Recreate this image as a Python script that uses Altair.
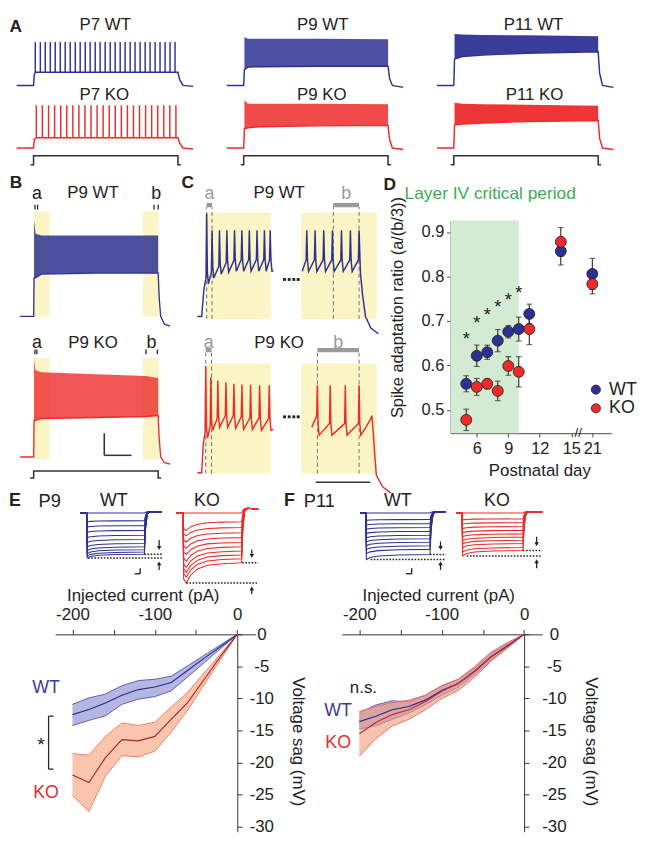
import altair as alt
import pandas as pd

S = 0.98


def P(v):
    return round(v * S, 3)


FONT = "Liberation Sans"
INK = "#222222"
BLUE = "#2e3192"
RED = "#ee2a2a"
YEL = "#fbf4c4"
GRY = "#9a9a9a"
GREEN_BG = "#d4ebd3"
GREEN_TX = "#3aad52"

# ====================== DATA ======================
# ---- Panel A: spike trains (t in ms, V in mV) ----
A_T = [-117, 1105]
A_V = [-78, 42]
p7_wt_spikes = [12, 47, 81, 116, 150, 185, 219, 254, 289, 323, 358, 392, 427, 461, 496,
                531, 565, 600, 634, 669, 703, 738, 773, 807, 842, 876, 911, 945, 980]
p7_wt_peak, p7_wt_trough = 20, -42.6
p7_wt_line_t = [-117, 0, 5, 12, 1000, 1012, 1035, 1105]
p7_wt_line_v = [-70, -70, -48, -42.6, -42.6, -58, -70, -72]
p7_ko_spikes = [19, 61, 104, 146, 188, 230, 272, 314, 356, 398, 440, 482, 524, 566, 608,
                650, 692, 734, 776, 818, 860, 902, 944, 986]
p7_ko_peak, p7_ko_trough = 18.8, -48.6
p7_ko_line_t = [-117, 0, 5, 19, 1000, 1012, 1035, 1105]
p7_ko_line_v = [-70, -70, -52, -48.6, -48.6, -60, -70, -72]

p9_env_t = [5, 30, 100, 500, 1000]
p9_wt_lo = [-37, -32, -31, -30, -30]
p9_wt_hi = [30, 27, 27, 27, 26]
p9_ko_lo = [-30, -28, -26, -24, -23]
p9_ko_hi = [29, 22, 22, 22, 21]
p9_line_t = [-117, 0, 5, 30, 100, 500, 1000, 1010, 1030, 1105]
p9_wt_line_v = [-70, -70, -37, -32, -31, -30, -30, -55, -70, -74]
p9_ko_line_v = [-70, -70, -30, -28, -26, -24, -23, -52, -70, -73]

p11_env_t = [5, 60, 200, 500, 1000]
p11_wt_lo = [-15, -10, -7, -3, 0]
p11_wt_hi = [37, 36, 35, 34, 32]
p11_ko_lo = [-22, -20, -18, -15, -13]
p11_ko_hi = [24, 22, 21, 20, 18]
p11_line_t = [-117, 0, 5, 60, 200, 500, 1000, 1010, 1030, 1105]
p11_wt_line_v = [-70, -70, -15, -10, -7, -3, 0, -45, -70, -74]
p11_ko_line_v = [-70, -70, -22, -20, -18, -15, -13, -50, -70, -73]

stim_t = [-20, 0, 0, 1000, 1000, 1020]
stim_v = [0, 0, 1, 1, 0, 0]

# ---- Panel B ----
B_T = [-108, 1095]
B_V = [-83, 42]
b_box_t0 = [0, 877]
b_box_t1 = [128, 1006]
b_wt_box_v = [-70, 39.4]
b_ko_box_v = [-72.3, 32.7]
b_wt_env_t = [3, 15, 60, 500, 1000]
b_wt_env_lo = [-30, -30, -26, -25, -25]
b_wt_env_hi = [30, 16, 14, 14, 14]
b_wt_line_t = [-108, 0, 3, 15, 60, 500, 1000, 1008, 1020, 1050, 1095]
b_wt_line_v = [-70, -70, -30, -30, -26, -25, -25, -50, -70, -78, -80]
b_ko_env_t = [3, 15, 60, 500, 900, 1000]
b_ko_env_lo = [-32, -32, -30, -29, -28, -27]
b_ko_env_hi = [31, 20, 18, 16, 14, 12]
b_ko_line_t = [-108, 0, 3, 15, 60, 500, 900, 1000, 1008, 1020, 1050, 1095]
b_ko_line_v = [-70, -70, -32, -32, -30, -29, -28, -27, -50, -70, -76, -77.3]
b_wt_ticks = [10.3, 31.2, 967, 1000]
b_ko_ticks = [10.3, 25.8, 902, 993]
b_wt_lab_t = [25.8, 985]
b_ko_lab_t = [25.8, 946]
b_stim_t = [-28, 0, 0, 1000, 1000, 1023]
b_scale_t = [567, 786]
b_scale_v = [-68.3, -45.3]

# ---- Panel C ----
C1_T = [-8, 131.5]
C2_T = [890.5, 1054.7]
C_V = [-83, 42]
c_box1_t = [6.1, 126.7]
c_box2_t = [890.5, 1028.8]
c_wt_box_v = [-72.6, 37.7]
c_ko_box_v = [-71, 43.3]
c1_wt_start_t, c1_wt_start_v = [-8, 0, 4], [-70, -70, -42]
c1_wt_spk_t = [9.1, 19, 32.6, 46.2, 60.3, 73.7, 87.4, 101.5, 115.1, 125.7]
c1_wt_spk_v = [36.7, 19.4, 19.4, 19.4, 19.4, 19.4, 19.4, 19.4, 19.4, 19.4]
c1_wt_trough = [-36, -30, -26, -24, -23, -23, -23, -23, -23, -23]
c1_wt_end_t, c1_wt_end_v = [131.5], [-22.3]
c2_wt_start_t, c2_wt_start_v = [892.3], [-23]
c2_wt_spk_t = [900.6, 915.8, 931.7, 947.6, 964.2, 980.6, 996.5]
c2_wt_spk_v = [19.4, 19.4, 19.4, 19.4, 19.4, 19.4, 19.4]
c2_wt_trough = [-23.3, -23.3, -23.3, -23.3, -23.3, -23.3]
c2_wt_end_t, c2_wt_end_v = [999, 1003, 1008.3, 1018, 1031.8], [-25, -48, -70, -82, -88]
c1_ko_start_t, c1_ko_start_v = [-8, 0, 3], [-70, -70, -40]
c1_ko_spk_t = [7.4, 16.7, 29.6, 44.5, 59.1, 73.8, 89.7, 106.3, 123.9]
c1_ko_spk_v = [40.7, 29, 25.7, 24, 22.3, 21.7, 21.3, 20.7, 20.7]
c1_ko_trough = [-34, -26, -23, -23, -24, -25, -25, -26, -26]
c1_ko_end_t, c1_ko_end_v = [131.5], [-25]
c2_ko_start_t, c2_ko_start_v = [909.9], [-22.7]
c2_ko_spk_t = [920, 943.5, 971.2, 996.5]
c2_ko_spk_v = [20.7, 20.7, 20.7, 20.7]
c2_ko_trough = [-31, -31, -31, -31]
c2_ko_end_t = [1010, 1017, 1020, 1022.5, 1025, 1028.2, 1040, 1054.7]
c2_ko_end_v = [-22, -15, -11, -28, -50, -72.7, -85, -91]
c1_wt_dash_t, c2_wt_dash_t = [9.1, 19], [949.3, 996.5]
c1_ko_dash_t, c2_ko_dash_t = [7.4, 18], [920, 996.5]
c_wt_dash_v = [-72.6, 43.7]
c_ko_dash_v = [-71, 55.7]
c_wt_bar_v, c_ko_bar_v = 45.7, 57.3
c_wt_lab_v, c_ko_lab_v = 56.7, 65
c_dots_t = [152, 160.5, 169, 177]
c_scale_t = [917, 1017]
c_scale_v = -80

# ---- Panel D ----
D_X = [3.5, 18.8]
D_Y = [0.448, 0.926]
d_days = [5, 6, 7, 8, 9, 10, 11, 14, 21]
d_wt_mean = [0.559, 0.622, 0.630, 0.656, 0.676, 0.682, 0.716, 0.857, 0.806]
d_wt_sem = [0.018, 0.024, 0.016, 0.025, 0.014, 0.027, 0.022, 0.031, 0.035]
d_ko_mean = [0.478, 0.552, 0.559, 0.543, 0.599, 0.586, 0.682, 0.878, 0.783]
d_ko_sem = [0.024, 0.019, 0.011, 0.022, 0.021, 0.034, 0.035, 0.032, 0.022]
d_star_days = [5, 6, 7, 8, 9, 10]
d_star_y = [0.667, 0.703, 0.721, 0.741, 0.756, 0.772]
d_period = [3.5, 10]
d_tick_days = [6, 9, 12, 15, 21]
d_y_ticks = [0.5, 0.6, 0.7, 0.8, 0.9]

# ---- Panels E / F: voltage sag ----
EF_X = [-221, 22]
EF_Y = [-30.75, 0]
ef_cur = [-200, -180, -160, -140, -120, -100, -80, -60, -40, -20, 0]
e_wt_m = [-12.5, -11.7, -10.7, -9.5, -8.6, -8.2, -7.5, -5.6, -3.7, -1.9, 0]
e_wt_hi = [-10.9, -9.9, -9.3, -8.0, -7.2, -7.0, -6.5, -4.9, -3.25, -1.6, 0]
e_wt_lo = [-14.2, -13.4, -12.7, -10.9, -10.1, -9.7, -8.8, -6.6, -4.4, -2.2, 0]
e_ko_m = [-21.9, -23.1, -19.2, -16.4, -16.6, -15.9, -13.2, -10.6, -7.0, -3.4, 0]
e_ko_hi = [-18.6, -18.8, -15.9, -13.8, -14.2, -13.7, -11.3, -9.0, -6.0, -3.0, 0]
e_ko_lo = [-25.1, -27.6, -22.1, -18.9, -19.1, -18.2, -15.2, -11.8, -7.8, -3.9, 0]
f_wt_m = [-13.6, -12.75, -11.75, -11.25, -10.25, -8.75, -7.65, -5.75, -3.5, -1.75, 0]
f_wt_hi = [-12.25, -11.0, -10.35, -10.5, -9.5, -8.0, -7.0, -5.25, -3.0, -1.35, 0]
f_wt_lo = [-14.75, -14.25, -13.25, -12.25, -11.0, -9.5, -8.25, -6.25, -4.0, -2.0, 0]
f_ko_m = [-15.5, -13.75, -12.5, -11.75, -10.5, -8.85, -7.65, -5.75, -3.5, -1.85, 0]
f_ko_hi = [-12.0, -11.25, -10.65, -10.25, -9.5, -8.0, -7.0, -5.0, -2.75, -1.25, 0]
f_ko_lo = [-19.0, -16.25, -14.25, -13.25, -11.75, -10.0, -8.75, -6.65, -4.15, -2.15, 0]

# ---- inset sweeps (relative mV), hyperpolarizing steps ----
IN_V = [-76, 8]
ewt_T, eko_T, fwt_T, fko_T = [-67, 783], [-66, 770], [-51.3, 750], [-54, 790]
ewt_steady = [0, -8, -13, -18, -23, -27.5, -31.5, -35, -38, -40.5, -42.7]
ewt_peak = [0, -9, -14.5, -20, -25.5, -30.5, -35, -39, -42, -44.5, -46.7]
eko_steady = [0, -9, -15, -20.5, -25.5, -30.5, -35, -39.5, -43.5, -47.5, -51.7]
eko_peak = [0, -18, -23.5, -30, -36.5, -43, -50, -56.5, -61.5, -66.5, -72.7]
fwt_steady = [0, -6.7, -11, -15, -19, -23, -26.7, -30.3, -34, -37.7, -43]
fwt_peak = [0, -7.5, -12.3, -16.8, -21.2, -25.6, -29.8, -33.8, -37.8, -42, -48.3]
fko_steady = [0, -6, -10, -14, -18, -21.7, -25, -28.3, -31.7, -35.7, -38.8]
fko_peak = [0, -7, -11.5, -16, -20.5, -24.5, -28.5, -32, -36, -40.5, -44.5]
wt_sag_t, wt_sag_f = [6, 40, 120, 300, 600], [1.0, 0.6, 0.3, 0.1, 0.0]
ko_sag_t, ko_sag_f = [8, 35, 80, 150, 250, 400, 600], [0.8, 1.0, 0.6, 0.3, 0.12, 0.04, 0.0]
ret_t, ret_f = [612, 630, 660], [0.4, 0.06, 0.0]

# ====================== HELPERS ======================
_one = pd.DataFrame({"z": [0]})


class Fr:
    """A sub-plot frame: data domains and its pixel box (reference px)."""

    def __init__(self, td, vd, x0, x1, y0, y1):
        self.td, self.vd = td, vd
        self.xr = [P(x0), P(x1)]
        self.yr = [P(y1), P(y0)]

    def X(self, f, axis=None):
        return alt.X(f"{f}:Q", scale=alt.Scale(domain=self.td, range=self.xr, nice=False, zero=False),
                     axis=axis)

    def Y(self, f, axis=None):
        return alt.Y(f"{f}:Q", scale=alt.Scale(domain=self.vd, range=self.yr, nice=False, zero=False),
                     axis=axis)


def line_layer(t, v, fr, color, w=1.3, dash=None):
    df = pd.DataFrame({"t": t, "v": v, "i": list(range(len(t)))})
    kw = {"color": color, "strokeWidth": P(w)}
    if dash:
        kw["strokeDash"] = dash
    return alt.Chart(df).mark_line(**kw).encode(x=fr.X("t"), y=fr.Y("v"), order="i:Q")


def area_layer(t, lo, hi, fr, color, op):
    df = pd.DataFrame({"t": t, "lo": lo, "hi": hi})
    return alt.Chart(df).mark_area(color=color, opacity=op).encode(x=fr.X("t"), y=fr.Y("lo"), y2="hi")


def vseg_layer(t, v1, v2, fr, color, w=1.2, dash=None):
    df = pd.DataFrame({"t": t, "v": v1, "v2": v2})
    kw = {"color": color, "strokeWidth": P(w)}
    if dash:
        kw["strokeDash"] = dash
    return alt.Chart(df).mark_rule(**kw).encode(x=fr.X("t"), y=fr.Y("v"), y2="v2")


def hseg_layer(t1, t2, v, fr, color, w=1.2, dash=None):
    df = pd.DataFrame({"t": t1, "t2": t2, "v": v})
    kw = {"color": color, "strokeWidth": P(w)}
    if dash:
        kw["strokeDash"] = dash
    return alt.Chart(df).mark_rule(**kw).encode(x=fr.X("t"), x2="t2", y=fr.Y("v"))


def rect_layer(t1, t2, v1, v2, fr, color):
    df = pd.DataFrame({"t": t1, "t2": t2, "v": v1, "v2": v2})
    return alt.Chart(df).mark_rect(color=color).encode(x=fr.X("t"), x2="t2", y=fr.Y("v"), y2="v2")


def text_layer(t, v, labels, fr, size, color=INK, weight="normal", dy=0):
    df = pd.DataFrame({"t": t, "v": v, "s": labels})
    return alt.Chart(df).mark_text(
        fontSize=P(size), color=color, fontWeight=weight, baseline="middle",
        align="center", dy=P(dy)).encode(x=fr.X("t"), y=fr.Y("v"), text="s:N")


def point_layer(t, v, fr, color, shape, size):
    df = pd.DataFrame({"t": t, "v": v})
    return alt.Chart(df).mark_point(shape=shape, filled=True, size=size, color=color,
                                    opacity=1).encode(x=fr.X("t"), y=fr.Y("v"))


def ptext(s, px, py, size=18, weight="bold", color=INK):
    return alt.Chart(_one).mark_text(
        text=s, fontSize=P(size), fontWeight=weight, color=color,
        baseline="middle", align="center").encode(x=alt.value(P(px)), y=alt.value(P(py)))


def train(start_t, start_v, spk_t, spk_v, trough, end_t, end_v):
    t, v = list(start_t), list(start_v)
    prev = start_v[-1]
    for i, (ts, vp) in enumerate(zip(spk_t, spk_v)):
        t += [ts - 1.2, ts]
        v += [prev + 12, vp]
        if i < len(trough):
            t += [ts + 1.3, ts + 3.2]
            v += [trough[i] + 12, trough[i]]
            prev = trough[i]
    return t + list(end_t), v + list(end_v)


panels = []      # independent sub-plots (each a layer with shared scales)
labels = []      # panel letters and headings
HEAD = 17.5      # heading font size (reference px)

# ====================== PANEL A ======================
A_COLS = [(9, 192.3), (227.3, 410.6), (445.6, 628.9)]


def a_plot(fr, color, lt, lv, env=None, env_op=0.85, spikes=None):
    L = []
    if env is not None:
        L.append(area_layer(env[0], env[1], env[2], fr, color, env_op))
    if spikes is not None:
        st, lo, hi = spikes
        L.append(vseg_layer(st, [lo] * len(st), [hi] * len(st), fr, color, 1.5))
    L.append(line_layer(lt, lv, fr, color, 1.5))
    return alt.layer(*L)


a_specs = [
    (dict(lt=p7_wt_line_t, lv=p7_wt_line_v, spikes=(p7_wt_spikes, p7_wt_trough, p7_wt_peak)),
     dict(lt=p7_ko_line_t, lv=p7_ko_line_v, spikes=(p7_ko_spikes, p7_ko_trough, p7_ko_peak))),
    (dict(lt=p9_line_t, lv=p9_wt_line_v, env=(p9_env_t, p9_wt_lo, p9_wt_hi), env_op=0.85),
     dict(lt=p9_line_t, lv=p9_ko_line_v, env=(p9_env_t, p9_ko_lo, p9_ko_hi), env_op=0.85)),
    (dict(lt=p11_line_t, lv=p11_wt_line_v, env=(p11_env_t, p11_wt_lo, p11_wt_hi), env_op=0.95),
     dict(lt=p11_line_t, lv=p11_ko_line_v, env=(p11_env_t, p11_ko_lo, p11_ko_hi), env_op=0.95)),
]
for (x0, x1), (wt, ko) in zip(A_COLS, a_specs):
    panels.append(a_plot(Fr(A_T, A_V, x0, x1, 15.7, 75.7), BLUE, **wt))
    panels.append(a_plot(Fr(A_T, A_V, x0, x1, 80.7, 140.7), RED, **ko))
    panels.append(line_layer(stim_t, stim_v, Fr(A_T, [-0.2, 1.2], x0, x1, 143, 156), "#333333", 1.6))

labels += [ptext("A", 8, 11),
           ptext("P7 WT", 101, 8.6, HEAD, "normal"), ptext("P9 WT", 327, 8.6, HEAD, "normal"),
           ptext("P11 WT", 546, 8.6, HEAD, "normal"),
           ptext("P7 KO", 100, 82, HEAD, "normal"), ptext("P9 KO", 326, 82, HEAD, "normal"),
           ptext("P11 KO", 547, 82, HEAD, "normal")]

# ====================== PANEL B ======================
fb_wt = Fr(B_T, B_V, 12.7, 168.3, 199.7, 324.7)
fb_ko = Fr(B_T, B_V, 12.7, 168.3, 345.7, 470.7)
fb_st = Fr(B_T, [-0.2, 1.2], 12.7, 168.3, 470.7, 481)
panels.append(alt.layer(
    rect_layer(b_box_t0, b_box_t1, [b_wt_box_v[0]] * 2, [b_wt_box_v[1]] * 2, fb_wt, YEL),
    area_layer(b_wt_env_t, b_wt_env_lo, b_wt_env_hi, fb_wt, BLUE, 0.85),
    line_layer(b_wt_line_t, b_wt_line_v, fb_wt, BLUE, 1.4),
    vseg_layer(b_wt_ticks, [41] * 4, [46] * 4, fb_wt, INK, 1.3),
    text_layer(b_wt_lab_t, [56.7] * 2, ["a", "b"], fb_wt, 18.5),
))
panels.append(alt.layer(
    rect_layer(b_box_t0, b_box_t1, [b_ko_box_v[0]] * 2, [b_ko_box_v[1]] * 2, fb_ko, YEL),
    area_layer(b_ko_env_t, b_ko_env_lo, b_ko_env_hi, fb_ko, RED, 0.8),
    line_layer(b_ko_line_t, b_ko_line_v, fb_ko, RED, 1.4),
    vseg_layer(b_ko_ticks, [36.7] * 4, [41.7] * 4, fb_ko, INK, 1.3),
    text_layer(b_ko_lab_t, [48.7] * 2, ["a", "b"], fb_ko, 18.5),
    vseg_layer([b_scale_t[0]], [b_scale_v[0]], [b_scale_v[1]], fb_ko, "#333333", 1.6),
    hseg_layer([b_scale_t[0]], [b_scale_t[1]], [b_scale_v[0]], fb_ko, "#333333", 1.6),
))
panels.append(line_layer(b_stim_t, stim_v, fb_st, "#333333", 1.6))
labels += [ptext("B", 8.3, 173.3), ptext("P9 WT", 88.3, 183.3, HEAD, "normal"),
           ptext("P9 KO", 88.3, 339, HEAD, "normal")]

# ====================== PANEL C ======================


def c_plot(fr, box_t, box_v, color, tr, dash_t, dash_v, bar_v, lab, lab_v, extra):
    L = [
        rect_layer([box_t[0]], [box_t[1]], [box_v[0]], [box_v[1]], fr, YEL),
        vseg_layer(dash_t, [dash_v[0]] * 2, [dash_v[1]] * 2, fr, "#7a7a7a", 1.1, [4, 3]),
        hseg_layer([dash_t[0]], [dash_t[1]], [bar_v], fr, GRY, 4.5),
        text_layer([(dash_t[0] + dash_t[1]) / 2], [lab_v], [lab], fr, 18.5, GRY),
        line_layer(tr[0], tr[1], fr, color, 1.5),
    ] + extra
    return alt.layer(*L)


fc1_wt = Fr(C1_T, C_V, 196.7, 275.7, 199.7, 324.7)
fc2_wt = Fr(C2_T, C_V, 304.7, 397.7, 199.7, 324.7)
fc1_ko = Fr(C1_T, C_V, 196.7, 275.7, 362, 487)
fc2_ko = Fr(C2_T, C_V, 304.7, 397.7, 362, 487)
panels.append(c_plot(fc1_wt, c_box1_t, c_wt_box_v, BLUE,
                     train(c1_wt_start_t, c1_wt_start_v, c1_wt_spk_t, c1_wt_spk_v, c1_wt_trough,
                           c1_wt_end_t, c1_wt_end_v),
                     c1_wt_dash_t, c_wt_dash_v, c_wt_bar_v, "a", c_wt_lab_v,
                     [point_layer(c_dots_t, [-31.6] * 4, fc1_wt, INK, "square", P(P(9)))]))
panels.append(c_plot(fc2_wt, c_box2_t, c_wt_box_v, BLUE,
                     train(c2_wt_start_t, c2_wt_start_v, c2_wt_spk_t, c2_wt_spk_v, c2_wt_trough,
                           c2_wt_end_t, c2_wt_end_v),
                     c2_wt_dash_t, c_wt_dash_v, c_wt_bar_v, "b", c_wt_lab_v, []))
panels.append(c_plot(fc1_ko, c_box1_t, c_ko_box_v, RED,
                     train(c1_ko_start_t, c1_ko_start_v, c1_ko_spk_t, c1_ko_spk_v, c1_ko_trough,
                           c1_ko_end_t, c1_ko_end_v),
                     c1_ko_dash_t, c_ko_dash_v, c_ko_bar_v, "a", c_ko_lab_v,
                     [point_layer(c_dots_t, [-12] * 4, fc1_ko, INK, "square", P(P(9)))]))
panels.append(c_plot(fc2_ko, c_box2_t, c_ko_box_v, RED,
                     train(c2_ko_start_t, c2_ko_start_v, c2_ko_spk_t, c2_ko_spk_v, c2_ko_trough,
                           c2_ko_end_t, c2_ko_end_v),
                     c2_ko_dash_t, c_ko_dash_v, c_ko_bar_v, "b", c_ko_lab_v,
                     [hseg_layer([c_scale_t[0]], [c_scale_t[1]], [c_scale_v], fc2_ko, "#333333", 1.6)]))
labels += [ptext("C", 186.7, 173.3), ptext("P9 WT", 281.7, 183.3, HEAD, "normal"),
           ptext("P9 KO", 281.7, 339, HEAD, "normal")]

# ====================== PANEL D ======================
fd = Fr(D_X, D_Y, 459.7, 626.7, 212, 433)
brk = "datum.day > 15 ? datum.day - 4 : datum.day"
d_tick_pos = [d if d <= 15 else d - 4 for d in d_tick_days]
xaxD = alt.Axis(orient="bottom", offset=-P(847 - 433), values=d_tick_pos,
                labelExpr="datum.value > 15 ? toString(datum.value + 4) : toString(datum.value)",
                tickSize=P(4), labelFontSize=P(17), labelPadding=P(4), labelFlush=False,
                labelOverlap=False, title="Postnatal day", titleFontSize=P(17.5),
                titleX=P(552), titleY=P(39), titleAlign="center", titleBaseline="middle",
                domainColor="#444444", tickColor="#444444")
yaxD = alt.Axis(orient="left", offset=-P(459.7), values=d_y_ticks, format=".1f", tickSize=P(4),
                labelFontSize=P(17), labelPadding=P(3), labelFlush=False, labelOverlap=False,
                title="Spike adaptation ratio (a/(b/3))", titleFontSize=P(17),
                titleX=P(-54.7), titleY=P(302), titleAlign="center", titleBaseline="middle",
                domainColor="#444444", tickColor="#444444")
xD = fd.X("pos", xaxD)


def yD(f):
    return fd.Y(f, yaxD)


dfD = pd.DataFrame({"day": d_days + d_days, "geno": ["WT"] * 9 + ["KO"] * 9,
                    "m": d_wt_mean + d_ko_mean, "e": d_wt_sem + d_ko_sem})
baseD = alt.Chart(dfD).transform_calculate(pos=brk, lo="datum.m - datum.e", hi="datum.m + datum.e")
legD = alt.Legend(orient="none", legendX=P(601.5), legendY=P(378.5), title=None,
                  labelFontSize=P(18.5), labelColor=INK, symbolSize=P(P(90)), symbolType="circle",
                  symbolStrokeColor="#1a1a1a", symbolStrokeWidth=P(0.8), labelOffset=P(4.5),
                  rowPadding=0, padding=0, symbolOpacity=1)
panels.append(alt.layer(
    alt.Chart(pd.DataFrame({"pos": [d_period[0]], "pos2": [d_period[1]], "m": [D_Y[0]], "m2": [D_Y[1]]}))
    .mark_rect(color=GREEN_BG).encode(x=xD, x2="pos2", y=yD("m"), y2="m2"),
    baseD.mark_rule(color=INK, strokeWidth=P(1.1)).encode(x=xD, y=yD("lo"), y2="hi"),
    baseD.mark_tick(color=INK, orient="horizontal", size=P(6), thickness=P(1.1)).encode(x=xD, y=yD("lo")),
    baseD.mark_tick(color=INK, orient="horizontal", size=P(6), thickness=P(1.1)).encode(x=xD, y=yD("hi")),
    baseD.mark_circle(size=P(P(130)), opacity=1, stroke="#1a1a1a", strokeWidth=P(0.8)).encode(
        x=xD, y=yD("m"),
        color=alt.Color("geno:N", scale=alt.Scale(domain=["WT", "KO"], range=[BLUE, RED]), legend=legD)),
    alt.Chart(pd.DataFrame({"day": d_star_days, "sy": d_star_y})).transform_calculate(pos=brk)
    .mark_text(text="*", fontSize=P(19), color=INK, dy=P(4)).encode(x=xD, y=yD("sy")),
    alt.Chart(pd.DataFrame({"pos": [15.65], "m": [D_Y[0]]}))
    .mark_text(text="//", fontSize=P(14), color=INK, baseline="middle").encode(x=xD, y=yD("m")),
))
labels += [ptext("D", 396.7, 175),
           ptext("Layer IV critical period", 501, 185, 18, "normal", GREEN_TX)]

# ====================== PANELS E / F ======================
CHART_W, CHART_H = 629, 847


def ef_plot(fr, zero_x, wt, ko, style, label_pad, ytitle_x, xtitle_x, notes, bracket=None):
    xax = alt.Axis(orient="top", offset=-P(642), values=[-200, -150, -100, -50, 0],
                   labelExpr="datum.value % 100 == 0 ? toString(datum.value) : ''",
                   tickSize=P(5), labelFontSize=P(17.5), labelPadding=P(6), labelFlush=False,
                   labelOverlap=False, title="Injected current (pA)", titleFontSize=P(17.5),
                   titleX=P(xtitle_x), titleY=P(-40), titleAlign="center", titleBaseline="middle",
                   domainColor="#333333", tickColor="#333333")
    yax = alt.Axis(orient="right", offset=-P(CHART_W - zero_x), values=[0, -5, -10, -15, -20, -25, -30],
                   labelExpr="toString(datum.value)", tickSize=P(5), labelFontSize=P(17.5),
                   labelPadding=P(label_pad), labelAlign="center", labelFlush=False,
                   labelOverlap=False, title="Voltage sag (mV)", titleFontSize=P(17.5),
                   titleAngle=90, titleX=P(ytitle_x), titleY=P(753), titleAlign="center",
                   titleBaseline="middle", domainColor="#333333", tickColor="#333333")

    def ex(f):
        return fr.X(f, xax)

    def ey(f):
        return fr.Y(f, yax)

    layers = []
    for (m, lo, hi), (fill, op, edge, mean) in zip([wt, ko], style):
        ch = alt.Chart(pd.DataFrame({"c": ef_cur, "m": m, "lo": lo, "hi": hi}))
        layers += [
            ch.mark_area(color=fill, opacity=op).encode(x=ex("c"), y=ey("lo"), y2="hi"),
            ch.mark_line(color=edge, strokeWidth=P(1)).encode(x=ex("c"), y=ey("lo")),
            ch.mark_line(color=edge, strokeWidth=P(1)).encode(x=ex("c"), y=ey("hi")),
        ]
    for (m, lo, hi), (fill, op, edge, mean) in zip([wt, ko], style):
        layers.append(alt.Chart(pd.DataFrame({"c": ef_cur, "m": m}))
                      .mark_line(color=mean, strokeWidth=P(1.2)).encode(x=ex("c"), y=ey("m")))
    for (s, c, v, col, size, dy) in notes:
        layers.append(alt.Chart(pd.DataFrame({"c": [c], "m": [v], "s": [s]})).mark_text(
            fontSize=P(size), color=col, baseline="middle", align="center", dy=P(dy)
        ).encode(x=ex("c"), y=ey("m"), text="s:N"))
    if bracket is not None:
        bx, bx2, by1, by2 = bracket
        layers.append(alt.Chart(pd.DataFrame({"c": [bx], "m": [by1], "m2": [by2]}))
                      .mark_rule(color=INK, strokeWidth=P(1.3)).encode(x=ex("c"), y=ey("m"), y2="m2"))
        layers.append(alt.Chart(pd.DataFrame({"c": [bx, bx], "c2": [bx2, bx2], "m": [by1, by2]}))
                      .mark_rule(color=INK, strokeWidth=P(1.3)).encode(x=ex("c"), x2="c2", y=ey("m")))
    return alt.layer(*layers)


e_style = [("#b6b6e2", 1.0, "#5c5cb5", "#2c2c86"), ("#f9c5ad", 1.0, "#ef8060", "#a52a2a")]
f_style = [("#8c8cd6", 0.65, "#6a5ab8", "#2c2c86"), ("#f29a7a", 0.6, "#f06a5a", "#c0283a")]
panels.append(ef_plot(Fr(EF_X, EF_Y, 49, 257, 642, 847), 238.17,
                      (e_wt_m, e_wt_lo, e_wt_hi), (e_ko_m, e_ko_lo, e_ko_hi), e_style, 20, 62, 140,
                      [("WT", -232, -8.4, "#3a3a9a", 18.5, 0), ("KO", -232, -24.75, "#e03030", 18.5, 0),
                       ("*", -238.3, -16.6, INK, 20, 4)],
                      bracket=(-229, -223, -12.75, -21)))
panels.append(ef_plot(Fr(EF_X, EF_Y, 347, 555, 642, 847), 536.17,
                      (f_wt_m, f_wt_lo, f_wt_hi), (f_ko_m, f_ko_lo, f_ko_hi), f_style, 26, 69, 447,
                      [("n.s.", -195, -8.4, INK, 17.5, 0), ("WT", -225.7, -12, "#3a3a9a", 18.5, 0),
                       ("KO", -225.7, -17, "#e03030", 18.5, 0)]))


def sweep_table(steady, peak, t0, t_end, sag_t, sag_f, over):
    rows = []
    for k, (st, pk) in enumerate(zip(steady, peak)):
        pts = [(t0, 0.0), (0.0, 0.0)]
        pts += [(tt, st + (pk - st) * ff) for tt, ff in zip(sag_t, sag_f)]
        pts += [(tt, st * ff + over * (1 - ff)) for tt, ff in zip(ret_t, ret_f)]
        pts += [(t_end, over * 0.8)]
        for i, (tt, vv) in enumerate(pts):
            rows.append({"t": tt, "v": vv, "k": k, "i": i})
    return pd.DataFrame(rows)


def inset(td, x0, x1, steady, peak, sag_t, sag_f, over, color, dots, arrows, sbar):
    fr = Fr(td, IN_V, x0, x1, 508, 592)
    df = sweep_table(steady, peak, td[0], td[1], sag_t, sag_f, over)
    L = [alt.Chart(df).mark_line(color=color, strokeWidth=P(1.1)).encode(
        x=fr.X("t"), y=fr.Y("v"), detail="k:N", order="i:Q")]
    for (t1, v) in dots:
        L.append(hseg_layer([t1], [td[1]], [v], fr, INK, 1.6, [1.6, 1.6]))
    at, shafts, heads = arrows
    for (s1, s2), (hv, shp) in zip(shafts, heads):
        L.append(vseg_layer([at], [s1], [s2], fr, INK, 1.3))
        L.append(point_layer([at], [hv], fr, INK, shp, P(P(22))))
    if sbar is not None:
        (st1, st2), (sv1, sv2) = sbar
        L.append(vseg_layer([st2], [sv1], [sv2], fr, INK, 1.4))
        L.append(hseg_layer([st1], [st2], [sv2], fr, INK, 1.4))
    return alt.layer(*L)


panels.append(inset(ewt_T, 75, 160, ewt_steady, ewt_peak, wt_sag_t, wt_sag_f, 1.5, BLUE,
                    [(600, -42.7), (15, -46.7)],
                    (753, [(-28, -36), (-53, -59)], [(-36.3, "triangle-down"), (-52.2, "triangle-up")]),
                    ((500, 556), (-57.3, -63))))
panels.append(inset(eko_T, 175, 260, eko_steady, eko_peak, ko_sag_t, ko_sag_f, 5, RED,
                    [(606, -51.7), (35, -72.7)],
                    (704, [(-38, -44), (-78.5, -84)], [(-44.5, "triangle-down"), (-78.3, "triangle-up")]),
                    None))
panels.append(inset(fwt_T, 366, 455, fwt_steady, fwt_peak, wt_sag_t, wt_sag_f, 1.5, BLUE,
                    [(600, -43), (45, -48.3)],
                    (699, [(-29.5, -36), (-52.5, -59)], [(-36.3, "triangle-down"), (-52.2, "triangle-up")]),
                    ((375, 429), (-57.3, -63))))
panels.append(inset(fko_T, 466, 555, fko_steady, fko_peak, wt_sag_t, wt_sag_f, 1.5, RED,
                    [(600, -38.8), (47, -44.5)],
                    (735, [(-24.5, -32), (-50, -57.3)], [(-32.3, "triangle-down"), (-50, "triangle-up")]),
                    None))
labels += [ptext("E", 7.2, 504, 18.5), ptext("P9", 43.3, 504, 19, "normal"),
           ptext("WT", 110, 504, 18.5, "normal"), ptext("KO", 206.7, 504, 18.5, "normal"),
           ptext("F", 292.5, 504, 18.5), ptext("P11", 323.5, 504, 19, "normal"),
           ptext("WT", 405, 504, 18.5, "normal"), ptext("KO", 508, 504, 18.5, "normal")]

# ====================== FIGURE ======================
chart = alt.layer(*panels, *labels).resolve_scale(x="independent", y="independent").properties(
    width=P(CHART_W), height=P(CHART_H), padding=0)
chart = chart.configure(font=FONT).configure_view(stroke=None).configure_axis(
    grid=False, labelColor=INK, titleColor=INK, titleFontWeight="normal", labelFont=FONT,
    titleFont=FONT)

chart.save("out.html", embed_options={"renderer": "svg", "actions": False})
